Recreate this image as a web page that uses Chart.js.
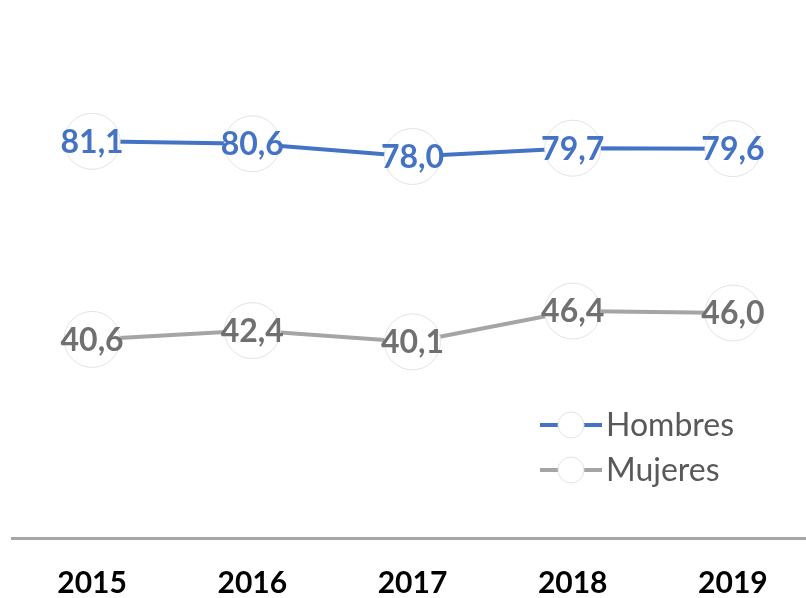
<!DOCTYPE html>
<html>
<head>
<meta charset="utf-8">
<script src="https://cdn.jsdelivr.net/npm/chart.js@4.4.0/dist/chart.umd.min.js"></script>
<style>
  html, body { margin: 0; padding: 0; background: #fff; overflow: hidden; }
  #wrap { width: 820px; height: 598px; }
</style>
</head>
<body>
<div id="wrap"><canvas id="chart" width="820" height="598"></canvas></div>
<script>
// data
const years = ['2015', '2016', '2017', '2018', '2019'];
const hombres = [81.1, 80.6, 78.0, 79.7, 79.6];
const mujeres = [40.6, 42.4, 40.1, 46.4, 46.0];
const seriesNames = ['Hombres', 'Mujeres'];

const blue = '#4472c4';
const grey = '#a5a5a5';

// value labels sitting on the white circles
const valueLabels = {
    id: 'valueLabels',
    afterDatasetsDraw(chart) {
        const ctx = chart.ctx;
        ctx.save();
        ctx.font = 'bold 32px Lato';
        ctx.textAlign = 'center';
        ctx.textBaseline = 'middle';
        chart.data.datasets.forEach((ds, i) => {
            const meta = chart.getDatasetMeta(i);
            ctx.fillStyle = ds.labelColor;
            meta.data.forEach((pt, j) => {
                ctx.fillText(ds.data[j].toFixed(1).replace('.', ','), pt.x, pt.y + 1);
            });
        });
        ctx.restore();
    }
};

// legend drawn inside the plot, lower right
const insideLegend = {
    id: 'insideLegend',
    afterDraw(chart) {
        const ctx = chart.ctx;
        ctx.save();
        chart.data.datasets.forEach((ds, i) => {
            const y = 425 + i * 45;
            ctx.strokeStyle = ds.borderColor;
            ctx.lineWidth = 4;
            ctx.beginPath();
            ctx.moveTo(540, y);
            ctx.lineTo(602, y);
            ctx.stroke();
            ctx.beginPath();
            ctx.arc(571, y, 13, 0, Math.PI * 2);
            ctx.fillStyle = '#fff';
            ctx.fill();
            ctx.strokeStyle = '#e3e3e3';
            ctx.lineWidth = 1;
            ctx.stroke();
            ctx.fillStyle = '#595959';
            ctx.font = '32px Lato';
            ctx.textAlign = 'left';
            ctx.textBaseline = 'middle';
            ctx.fillText(ds.label, 606, y + 1);
        });
        ctx.restore();
    }
};

const ctx = document.getElementById('chart').getContext('2d');
new Chart(ctx, {
    type: 'line',
    data: {
        labels: years,
        datasets: [{
            label: seriesNames[0],
            data: hombres,
            borderColor: blue,
            labelColor: blue,
            borderWidth: 4,
            pointRadius: 28,
            pointBackgroundColor: '#fff',
            pointBorderColor: '#e3e3e3',
            pointBorderWidth: 1
        }, {
            label: seriesNames[1],
            data: mujeres,
            borderColor: grey,
            labelColor: '#707070',
            borderWidth: 4,
            pointRadius: 28,
            pointBackgroundColor: '#fff',
            pointBorderColor: '#e3e3e3',
            pointBorderWidth: 1
        }]
    },
    plugins: [valueLabels, insideLegend],
    options: {
        responsive: false,
        animation: false,
        layout: { autoPadding: false, padding: { left: 12, right: 7, top: 0, bottom: -30 } },
        plugins: {
            legend: { display: false },
            tooltip: { enabled: false }
        },
        scales: {
            x: {
                offset: true,
                grid: { display: false, drawTicks: false },
                border: { display: true, color: '#a6a6a6', width: 3 },
                ticks: {
                    color: '#000',
                    padding: 30,
                    font: { family: 'Lato', weight: 'bold', size: 30, lineHeight: 1 }
                }
            },
            y: {
                display: false,
                min: 0,
                max: 110
            }
        }
    }
});
</script>
</body>
</html>
